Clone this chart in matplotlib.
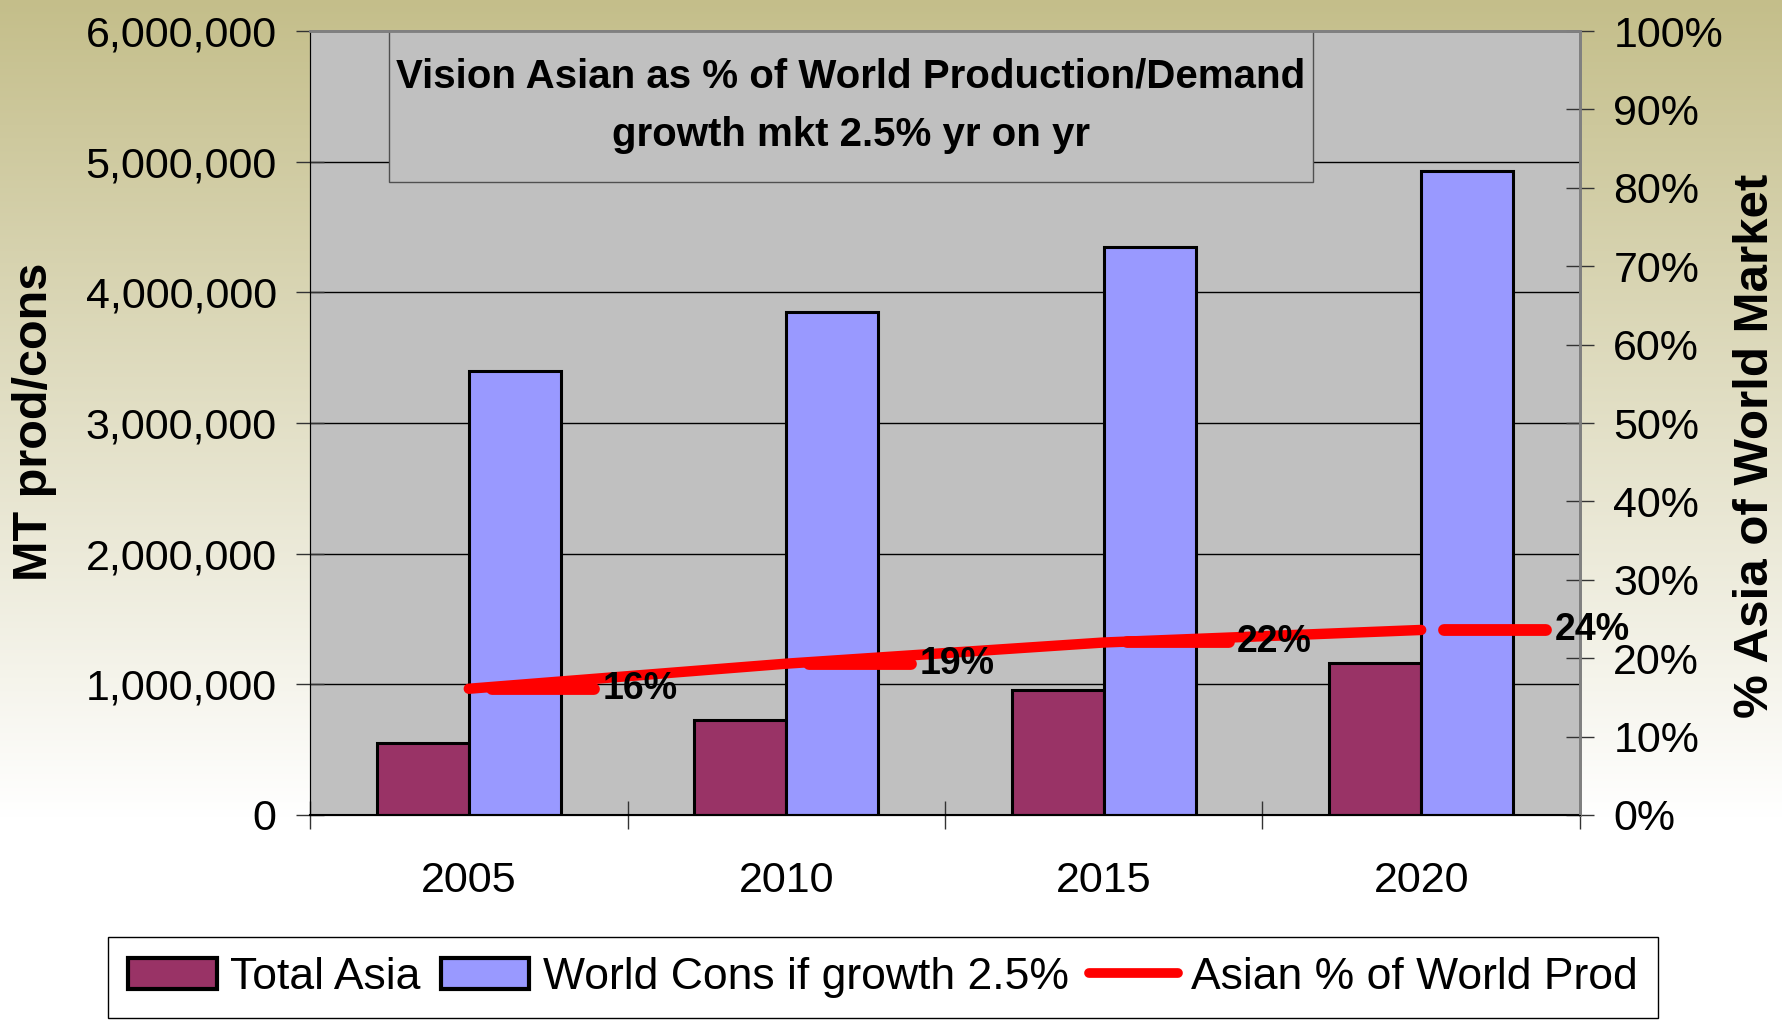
import numpy as np
import matplotlib
matplotlib.use("Agg")
import matplotlib.pyplot as plt
import matplotlib.colors as mcolors
from matplotlib.path import Path
from matplotlib.markers import MarkerStyle
from matplotlib.patches import Patch, Rectangle
from matplotlib.lines import Line2D
from matplotlib.ticker import FuncFormatter, PercentFormatter

years = ["2005", "2010", "2015", "2020"]
total_asia = [550000, 730000, 955000, 1160000]
world_cons = [3400000, 3850000, 4350000, 4925000]
asian_pct = [0.161, 0.193, 0.220, 0.236]
series_names = ["Total Asia", "World Cons if growth 2.5%", "Asian % of World Prod"]

plt.rcParams['font.family'] = ['Liberation Sans', 'DejaVu Sans']

fig = plt.figure(figsize=(17.82, 10.21), dpi=100)

# khaki -> white gradient background
bg = fig.add_axes([0, 0, 1, 1], zorder=-10)
top = np.array(mcolors.to_rgb('#c4be8a'))
t = np.clip(np.linspace(0, 1, 600) / 0.8, 0, 1)
grad = top[None, :] * (1 - t[:, None]) + t[:, None]
bg.imshow(grad[:, None, :], aspect='auto', extent=[0, 1, 0, 1])
bg.axis('off')

ax = fig.add_axes([0.174, 0.2018, 0.7126, 0.7678])
ax.set_facecolor('#c0c0c0')
x = np.arange(len(years))
w = 0.29
ax.bar(x - w / 2, total_asia, w, color='#993366', edgecolor='black', linewidth=2.2, zorder=2)
ax.bar(x + w / 2, world_cons, w, color='#9999ff', edgecolor='black', linewidth=2.2, zorder=2)
ax.set_xlim(-0.5, 3.5)
ax.set_ylim(0, 6e6)
ax.set_yticks(np.arange(0, 6e6 + 1, 1e6))
ax.yaxis.set_major_formatter(FuncFormatter(lambda v, p: f"{v:,.0f}"))
ax.grid(axis='y', color='black', linewidth=1)
ax.set_axisbelow(True)
ax.set_xticks(x, years)
ax.set_xticks(np.arange(-0.5, 4, 1), minor=True)
ax.tick_params(axis='x', which='major', length=0, pad=33, labelsize=31)
ax.tick_params(axis='x', which='minor', direction='inout', length=20, width=1, color='#333333')
ax.tick_params(axis='y', direction='inout', length=20, width=1, color='#333333', pad=14, labelsize=31)

for s in ['top', 'right']:
    ax.spines[s].set_color('#808080')
    ax.spines[s].set_linewidth(2)
ax.spines['left'].set_color('#333333')
ax.spines['bottom'].set_color('black')
ax.spines['bottom'].set_linewidth(1.5)

ax.set_ylabel("MT prod/cons", fontsize=35, fontweight='bold')
ax.yaxis.set_label_coords(-0.199, 0.502)

# title box inside the plot
ax.add_patch(Rectangle((0.062, 0.807), 0.728, 0.193, transform=ax.transAxes,
                       facecolor='#c0c0c0', edgecolor='#505050', lw=1, zorder=3))
ax.text(0.426, 0.905, "Vision Asian as % of World Production/Demand\ngrowth mkt 2.5% yr on yr",
        transform=ax.transAxes, ha='center', va='center', fontsize=29,
        fontweight='bold', linespacing=1.7, zorder=4)

ax2 = ax.twinx()
ax2.set_ylim(0, 1)
ax2.set_yticks(np.arange(0, 1.01, 0.1))
ax2.yaxis.set_major_formatter(PercentFormatter(1, decimals=0))
ax2.tick_params(axis='y', direction='inout', length=20, width=1, color='#333333', pad=14, labelsize=31)
ax2.spines['right'].set_color('#808080')
ax2.spines['right'].set_linewidth(2)
ax2.spines['top'].set_color('#808080')
ax2.spines['top'].set_linewidth(2)

dash = MarkerStyle(Path([(0.18, 0), (1, 0)]), capstyle='round')
ax2.plot(x, asian_pct, color='red', lw=7.5, solid_capstyle='round',
         marker=dash, markersize=180, markeredgewidth=8.5, markeredgecolor='red')
for xi, v in zip(x, asian_pct):
    ax2.annotate(f"{v:.0%}", (xi, v), xytext=(96, 0), textcoords='offset points',
                 ha='left', va='center', fontsize=27, fontweight='bold')

ax2.set_ylabel("% Asia of World Market", fontsize=35.5, fontweight='bold', rotation=90)
ax2.yaxis.set_label_coords(1.1205, 0.471)

handles = [Patch(facecolor='#993366', edgecolor='black', lw=3),
           Patch(facecolor='#9999ff', edgecolor='black', lw=3),
           Line2D([], [], color='red', lw=7, solid_capstyle='round')]
leg = fig.legend(handles, series_names, loc='upper left',
                 bbox_to_anchor=(108 / 1782, 1 - 937 / 1021), ncol=3, fontsize=32,
                 frameon=True, fancybox=False, edgecolor='black', facecolor='white',
                 framealpha=1, handlelength=2.0, handletextpad=0.3, columnspacing=0.45,
                 borderpad=0.45, borderaxespad=0)
leg.get_frame().set_linewidth(1)

fig.savefig("out.png", dpi=100)
